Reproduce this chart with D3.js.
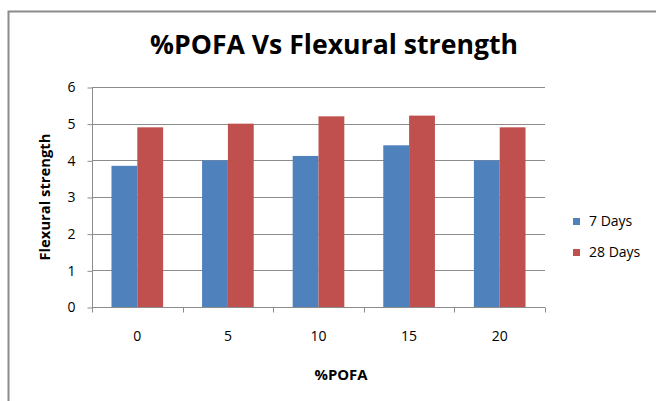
<!DOCTYPE html>
<html>
<head>
<meta charset="utf-8">
<script src="https://cdn.jsdelivr.net/npm/d3@7"></script>
<style>
  body { margin: 0; background: #fff; }
  text { font-family: "Open Sans", "Noto Sans", sans-serif; fill: #000; }
</style>
</head>
<body>
<div id="chart"></div>
<script>
const categories = ['0', '5', '10', '15', '20'];
const seriesNames = ['7 Days', '28 Days'];
const days7 = [3.85, 4.0, 4.12, 4.41, 4.0];
const days28 = [4.9, 5.0, 5.2, 5.22, 4.9];
const yTicks = [0, 1, 2, 3, 4, 5, 6];
const colors = ['#4f81bd', '#c0504d'];

const w = 656;
const h = 401;
const plotLeft = 92, plotRight = 545, plotTop = 87, plotBottom = 307;

const svg = d3.select('#chart')
  .append('svg')
  .attr('width', w)
  .attr('height', h);

// outer chart frame (only top and left edges are visible)
svg.append('path')
  .attr('d', 'M8.5,' + (h + 2) + 'V11.5H' + (w + 2))
  .attr('fill', 'none')
  .attr('stroke', '#8c8c8c')
  .attr('stroke-width', 2);

const x0 = d3.scaleBand()
  .domain(categories)
  .range([plotLeft, plotRight])
  .paddingInner(0.43)
  .paddingOuter(0.215);

const x1 = d3.scaleBand()
  .domain(seriesNames)
  .range([0, x0.bandwidth()]);

const y = d3.scaleLinear()
  .domain([0, 6])
  .range([plotBottom, plotTop]);

// gridlines
svg.append('g')
  .selectAll('line')
  .data(yTicks.filter(d => d > 0))
  .enter()
  .append('line')
  .attr('x1', plotLeft)
  .attr('x2', plotRight)
  .attr('y1', d => Math.round(y(d)) + 0.5)
  .attr('y2', d => Math.round(y(d)) + 0.5)
  .attr('stroke', '#8c8c8c')
  .attr('stroke-width', 1);

// bars
const data = categories.map((c, i) => ({ cat: c, vals: [days7[i], days28[i]] }));
svg.append('g')
  .selectAll('g')
  .data(data)
  .enter()
  .append('g')
  .attr('transform', d => 'translate(' + x0(d.cat) + ',0)')
  .selectAll('rect')
  .data(d => d.vals.map((v, j) => ({ name: seriesNames[j], v: v, j: j })))
  .enter()
  .append('rect')
  .attr('x', d => x1(d.name))
  .attr('width', x1.bandwidth())
  .attr('y', d => y(d.v))
  .attr('height', d => plotBottom - y(d.v))
  .attr('fill', d => colors[d.j]);

// y axis
const yAxis = d3.axisLeft(y)
  .tickValues(yTicks)
  .tickFormat(d3.format('d'))
  .tickSize(5)
  .tickPadding(12);
const gy = svg.append('g')
  .attr('transform', 'translate(' + (plotLeft + 0.5) + ',0.5)')
  .call(yAxis);
gy.select('.domain').attr('stroke', '#8c8c8c').attr('d', 'M0,' + plotTop + 'V' + plotBottom);
gy.selectAll('.tick line').attr('stroke', '#8c8c8c');
gy.selectAll('.tick text').style('font-size', '14px').attr('fill', '#000');

// x axis
const xEdge = d3.scalePoint()
  .domain(d3.range(categories.length + 1))
  .range([plotLeft, plotRight]);
const gx = svg.append('g')
  .attr('transform', 'translate(0,' + (plotBottom + 0.5) + ')');
gx.append('line')
  .attr('x1', plotLeft).attr('x2', plotRight)
  .attr('stroke', '#8c8c8c');
gx.selectAll('.edge')
  .data(xEdge.domain())
  .enter()
  .append('line')
  .attr('class', 'edge')
  .attr('x1', d => Math.round(xEdge(d)) + 0.5)
  .attr('x2', d => Math.round(xEdge(d)) + 0.5)
  .attr('y1', 0).attr('y2', 5)
  .attr('stroke', '#8c8c8c');
gx.selectAll('.lbl')
  .data(categories)
  .enter()
  .append('text')
  .attr('class', 'lbl')
  .attr('x', d => x0(d) + x0.bandwidth() / 2)
  .attr('y', 33)
  .attr('text-anchor', 'middle')
  .style('font-size', '14px')
  .text(d => d);

// title
svg.append('text')
  .attr('x', 334)
  .attr('y', 54)
  .attr('text-anchor', 'middle')
  .attr('textLength', 368)
  .attr('lengthAdjust', 'spacingAndGlyphs')
  .style('font-size', '26px')
  .style('font-weight', 'bold')
  .text('%POFA Vs Flexural strength');

// axis titles
svg.append('text')
  .attr('x', 341)
  .attr('y', 380)
  .attr('text-anchor', 'middle')
  .attr('textLength', 53)
  .attr('lengthAdjust', 'spacingAndGlyphs')
  .style('font-size', '14px')
  .style('font-weight', 'bold')
  .text('%POFA');

svg.append('text')
  .attr('transform', 'translate(50,197) rotate(-90)')
  .attr('text-anchor', 'middle')
  .attr('textLength', 127)
  .attr('lengthAdjust', 'spacingAndGlyphs')
  .style('font-size', '14px')
  .style('font-weight', 'bold')
  .text('Flexural strength');

// legend
const legend = svg.append('g')
  .selectAll('g')
  .data(seriesNames)
  .enter()
  .append('g')
  .attr('transform', (d, i) => 'translate(573,' + (218 + i * 31) + ')');
legend.append('rect')
  .attr('width', 7)
  .attr('height', 7)
  .attr('fill', (d, i) => colors[i]);
legend.append('text')
  .attr('x', 16)
  .attr('y', 8)
  .style('font-size', '14px')
  .text(d => d);
</script>
</body>
</html>
